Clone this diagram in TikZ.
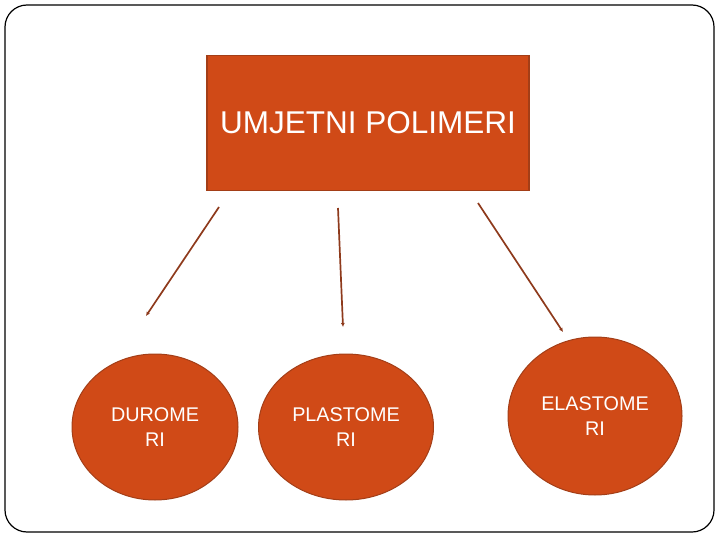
\documentclass[tikz,border=0pt]{standalone}
\usepackage{fontspec}
\setmainfont{Liberation Sans}
\usetikzlibrary{arrows.meta,shapes.geometric}
\definecolor{boxfill}{HTML}{D04A17}
\definecolor{boxline}{HTML}{A33E17}
\definecolor{arrowc}{HTML}{8E3A1C}
\tikzset{
  frame/.style={draw=black,line width=1.2pt,rounded corners=22pt},
  mainbox/.style={draw=boxline,fill=boxfill,line width=1.2pt,minimum width=322pt,minimum height=135pt,text=white,font=\fontsize{31.5}{36}\selectfont,inner sep=0pt},
  blob/.style={draw=boxline,fill=boxfill,line width=1pt,ellipse,text=white,align=center,font=\fontsize{19.8}{25}\selectfont,inner sep=0pt},
  conn/.style={draw=arrowc,line width=1.7pt,-{Latex[length=4pt,width=4pt]}}
}
\begin{document}
\begin{tikzpicture}[x=1pt,y=-1pt]
\useasboundingbox (0,0) rectangle (720,540);
\draw[frame] (5,5) rectangle (714,532);
\node[mainbox] (top) at (368,123) {UMJETNI POLIMERI};
\node[blob,minimum width=166pt,minimum height=146pt] (dur) at (155,427) {DUROME\\RI};
\node[blob,minimum width=175pt,minimum height=146pt] (pla) at (346,427) {PLASTOME\\RI};
\node[blob,minimum width=174pt,minimum height=158pt] (ela) at (595,416) {ELASTOME\\RI};
\coordinate (a1s) at (219,207);
\coordinate (a1e) at (146,316);
\coordinate (a2s) at (338,208);
\coordinate (a2e) at (343,327);
\coordinate (a3s) at (478,203);
\coordinate (a3e) at (563,332);
\draw[conn] (a1s) -- (a1e);
\draw[conn] (a2s) -- (a2e);
\draw[conn] (a3s) -- (a3e);
\end{tikzpicture}
\end{document}
